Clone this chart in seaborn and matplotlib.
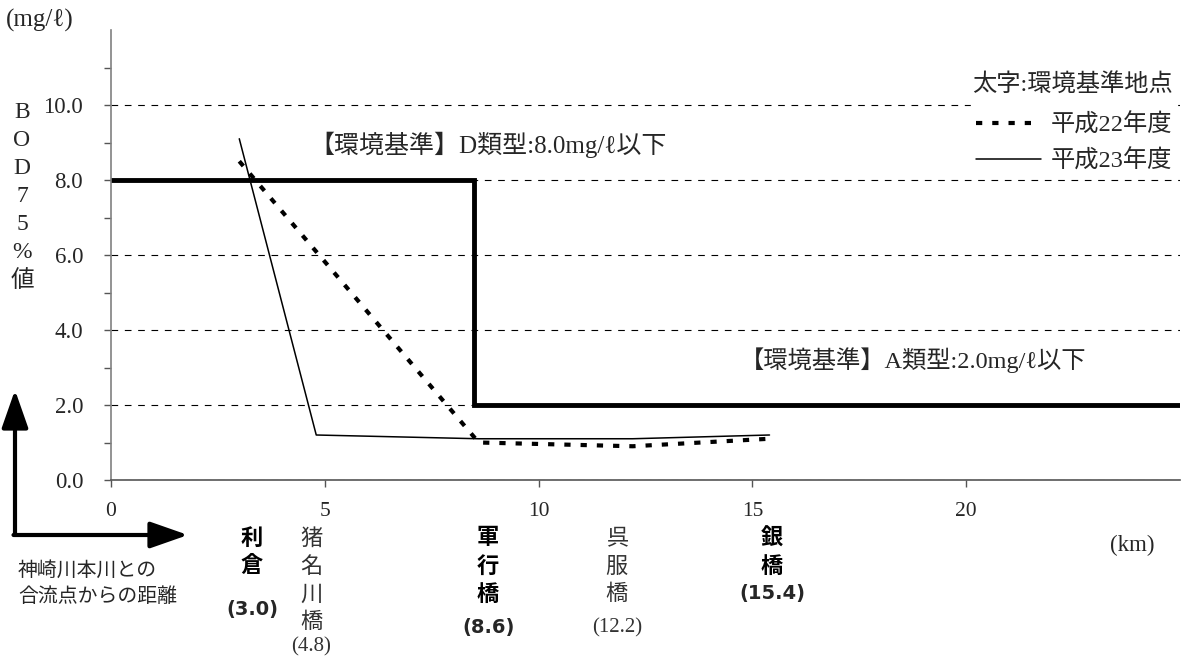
import matplotlib
matplotlib.use("Agg")
import matplotlib.pyplot as plt
import matplotlib.transforms as mtransforms
import seaborn as sns

# === Datos (BOD 75%値, mg/l)
dist_h22 = [3.0, 8.6, 12.2, 15.4]
bod_h22 = [8.5, 1.0, 0.9, 1.1]
dist_h23 = [3.0, 4.8, 8.6, 12.2, 15.4]
bod_h23 = [9.1, 1.2, 1.1, 1.1, 1.2]

# 環境基準 (D類型 8.0 -> A類型 2.0)
std_x = [0, 8.5, 8.5, 25]
std_y = [8.0, 8.0, 2.0, 2.0]

stations = ["利倉", "猪名川橋", "軍行橋", "呉服橋", "銀橋"]
station_km = [3.0, 4.8, 8.6, 12.2, 15.4]
station_main = [True, False, True, False, True]

y_ticks = [0, 2, 4, 6, 8, 10]
x_ticks = [0, 5, 10, 15, 20]

# === Layout (pixels)
label_x = [3.30, 4.68, 8.82, 11.83, 15.46]
km_y = [610, 647, 628, 628, 593]

W, H = 1188, 657
SERIF = ["Liberation Serif", "DejaVu Serif", "Noto Sans CJK JP"]
GOTHIC = ["Noto Sans CJK JP", "DejaVu Sans"]

sns.set_theme(style="white")
plt.rcParams["font.family"] = SERIF


def fy(py):
    return 1 - py / H


fig = plt.figure(figsize=(W / 100, H / 100), dpi=100)
ax = fig.add_axes([111 / W, 177 / H, 1069 / W, 450 / H])

# === Lineas
sns.lineplot(x=std_x, y=std_y, estimator=None, sort=False, color="black",
             lw=3.5, solid_joinstyle="miter", ax=ax)
sns.lineplot(x=dist_h22, y=bod_h22, color="black", lw=3,
             linestyle=(0, (1.5, 2.4)), label="平成22年度", ax=ax)
sns.lineplot(x=dist_h23, y=bod_h23, color="black", lw=1.1,
             label="平成23年度", ax=ax)

ax.set_xlim(0, 25)
ax.set_ylim(0, 12)
ax.set_yticks(y_ticks)
ax.set_yticklabels([f"{v:.1f}" for v in y_ticks])
ax.set_yticks([1, 3, 5, 7, 9, 11], minor=True)
ax.set_xticks(x_ticks)
ax.set_xticklabels([str(v) for v in x_ticks])
ax.set_xlabel("")
ax.set_ylabel("")
ax.yaxis.grid(True, which="major", linestyle=(0, (6, 6)), color="black", lw=0.8)
ax.xaxis.grid(False)
for s in ["top", "right"]:
    ax.spines[s].set_visible(False)
ax.spines["left"].set_color("#808080")
ax.spines["bottom"].set_color("#555555")
ax.spines["left"].set_linewidth(1.2)
ax.spines["bottom"].set_linewidth(1.2)
ax.tick_params(axis="y", which="both", direction="out", length=5, width=1,
               color="#555555", pad=15, labelsize=16.5, left=True)
ax.tick_params(axis="x", which="both", direction="out", length=5, width=1,
               color="#555555", pad=11, labelsize=15.5, bottom=True)

# === Leyenda
h, l = ax.get_legend_handles_labels()
leg = ax.legend(h, l, title="太字:環境基準地点", loc="upper right",
                bbox_to_anchor=(1186 / W, fy(60)), bbox_transform=fig.transFigure,
                frameon=True, facecolor="white", edgecolor="white", framealpha=1,
                fancybox=False, handlelength=2.7, handletextpad=0.4,
                labelspacing=0.55, borderpad=0.05, alignment="right",
                prop={"family": SERIF, "size": 17.5},
                title_fontproperties={"family": SERIF, "size": 17.5})
leg._legend_box.sep = 12

# === Textos
ax.text(4.65, 8.93, "【環境基準】D類型:8.0mg/ℓ以下", fontsize=18, va="center", ha="left")
ax.text(14.71, 3.2, "【環境基準】A類型:2.0mg/ℓ以下", fontsize=17.5, va="center", ha="left")

fig.text(6 / W, fy(20), "(mg/ℓ)", fontsize=18, va="center", ha="left")
fig.text(1110 / W, fy(545), "(km)", fontsize=16.5, va="center", ha="left")
for i, ch in enumerate("BOD75%値"):
    fig.text(22 / W, fy(113 + i * 28), ch, fontsize=17, va="center", ha="center")

fig.text(18 / W, fy(570), "神崎川本川との", fontsize=14.3, family=GOTHIC, va="center")
fig.text(18 / W, fy(597), "合流点からの距離", fontsize=14.3, family=GOTHIC, va="center")

# flechas
arrow = dict(arrowstyle="-|>,head_length=0.8,head_width=0.28", lw=3,
             color="black", shrinkA=0, shrinkB=0, mutation_scale=29)
ax.annotate("", xy=(15, H - 390), xytext=(15, H - 535), xycoords="figure pixels",
            textcoords="figure pixels", arrowprops=arrow, annotation_clip=False)
ax.annotate("", xy=(188, H - 535), xytext=(13.5, H - 535), xycoords="figure pixels",
            textcoords="figure pixels", arrowprops=arrow, annotation_clip=False)

# estaciones
blend = mtransforms.blended_transform_factory(ax.transData, fig.transFigure)
for name, km, main, lx, ky in zip(stations, station_km, station_main, label_x, km_y):
    w = "bold" if main else "normal"
    c = "black" if main else "#333333"
    for i, ch in enumerate(name):
        ax.text(lx, fy(538 + i * 28), ch, transform=blend, fontsize=16, fontweight=w,
                family=GOTHIC, color=c, ha="center", va="center", clip_on=False)
    if main:
        ax.text(lx, fy(ky), f"({km:.1f})", transform=blend, fontsize=14, fontweight="bold",
                family=["DejaVu Sans"], ha="center", va="center", clip_on=False)
    else:
        ax.text(lx, fy(ky), f"({km:.1f})", transform=blend, fontsize=15,
                color="#333333", ha="center", va="center", clip_on=False)

fig.savefig("out.png", dpi=100)
